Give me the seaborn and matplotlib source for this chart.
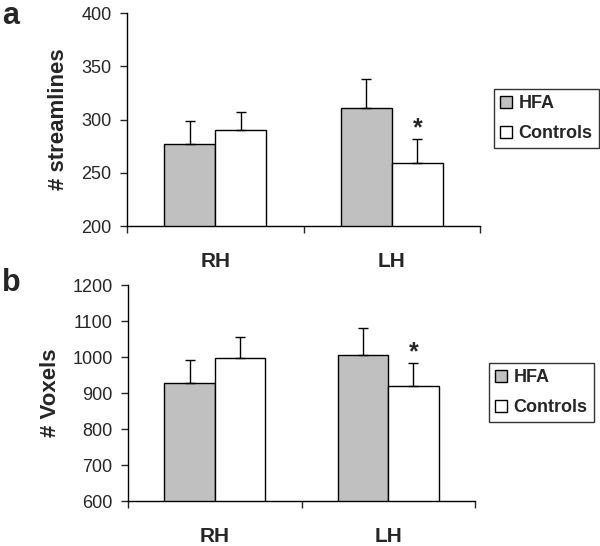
import pandas as pd
import matplotlib
matplotlib.use('Agg')
import matplotlib.pyplot as plt
import seaborn as sns

sns.set_style('ticks')
plt.rcParams['font.family'] = ['Liberation Sans', 'DejaVu Sans']

# data
hemis = ['RH', 'LH']
groups = ['HFA', 'Controls']
streamlines_hfa = [277, 311]
streamlines_ctrl = [290, 259]
streamlines_hfa_err = [22, 27]
streamlines_ctrl_err = [17, 23]
voxels_hfa = [927, 1006]
voxels_ctrl = [996, 919]
voxels_hfa_err = [66, 75]
voxels_ctrl_err = [59, 64]

colors = {'HFA': '#c0c0c0', 'Controls': 'white'}

fig = plt.figure(figsize=(6, 5.46), dpi=100)
ax_a = fig.add_axes([0.2117, 0.586, 0.5883, 0.390])
ax_b = fig.add_axes([0.2133, 0.0824, 0.5784, 0.3956])


def panel(ax, hfa, ctrl, hfa_err, ctrl_err, ylim, step, ylabel, label_x, legend_pos, star_hemi):
    df = pd.DataFrame({
        'hemi': hemis * 2,
        'group': ['HFA'] * 2 + ['Controls'] * 2,
        'value': hfa + ctrl,
    })
    sns.barplot(data=df, x='hemi', y='value', hue='group', order=hemis, hue_order=groups,
                palette=colors, edgecolor='black', linewidth=1, width=0.58,
                errorbar=None, ax=ax, legend=False, saturation=1)
    errs = [hfa_err, ctrl_err]
    for cont, err in zip(ax.containers, errs):
        xs = [b.get_x() + b.get_width() / 2 for b in cont]
        hs = [b.get_height() for b in cont]
        ax.errorbar(xs, hs, yerr=[[0] * len(err), err], fmt='none', ecolor='black',
                    elinewidth=1, capsize=3.6, capthick=1, zorder=1)
    # asterisk over the Controls bar
    i = hemis.index(star_hemi)
    bar = ax.containers[1][i]
    ax.annotate('*', (bar.get_x() + bar.get_width() / 2, bar.get_height() + ctrl_err[i]),
                xytext=(0, -1), textcoords='offset points', ha='center', va='bottom',
                fontsize=18, fontweight='bold')

    ax.set_xlim(-0.5, 1.5)
    ax.set_ylim(*ylim)
    ax.set_yticks(range(ylim[0], ylim[1] + 1, step))
    ax.set_xticks([-0.5, 0.5, 1.5], minor=True)
    ax.set_xticks([0, 1])
    ax.set_xticklabels(hemis, fontsize=15, fontweight='bold')
    ax.tick_params(axis='x', which='major', length=0, pad=19)
    ax.tick_params(axis='x', which='minor', length=5, width=1, direction='out')
    ax.tick_params(axis='y', length=5, width=1, labelsize=13, pad=6, direction='out')
    ax.set_xlabel('')
    ax.set_ylabel(ylabel, fontsize=16, fontweight='bold')
    ax.yaxis.set_label_coords(label_x, 0.5)
    sns.despine(ax=ax)
    for s in ['left', 'bottom']:
        ax.spines[s].set_color('black')
        ax.spines[s].set_linewidth(1)

    handles = [plt.Rectangle((0, 0), 1, 1, facecolor=colors[g], edgecolor='black', linewidth=1)
               for g in groups]
    leg = ax.legend(handles, groups, loc='upper left', bbox_to_anchor=legend_pos,
                    bbox_transform=fig.transFigure, frameon=True, fancybox=False,
                    prop={'size': 13, 'weight': 'bold'}, handlelength=0.65, handleheight=0.65,
                    handletextpad=0.35, labelspacing=0.7, borderpad=0.35, borderaxespad=0)
    leg.get_frame().set_edgecolor('black')
    leg.get_frame().set_linewidth(1)


panel(ax_a, streamlines_hfa, streamlines_ctrl, streamlines_hfa_err, streamlines_ctrl_err,
      (200, 400), 50, '# streamlines', -0.163, (494 / 600, 1 - 89 / 546), 'LH')
panel(ax_b, voxels_hfa, voxels_ctrl, voxels_hfa_err, voxels_ctrl_err,
      (600, 1200), 100, '# Voxels', -0.193, (489 / 600, 1 - 363 / 546), 'LH')

fig.text(0.003, 0.998, 'a', fontsize=22, fontweight='bold', ha='left', va='top')
fig.text(0.003, 1 - 268 / 546, 'b', fontsize=22, fontweight='bold', ha='left', va='top')

fig.savefig('out.png', dpi=100)
